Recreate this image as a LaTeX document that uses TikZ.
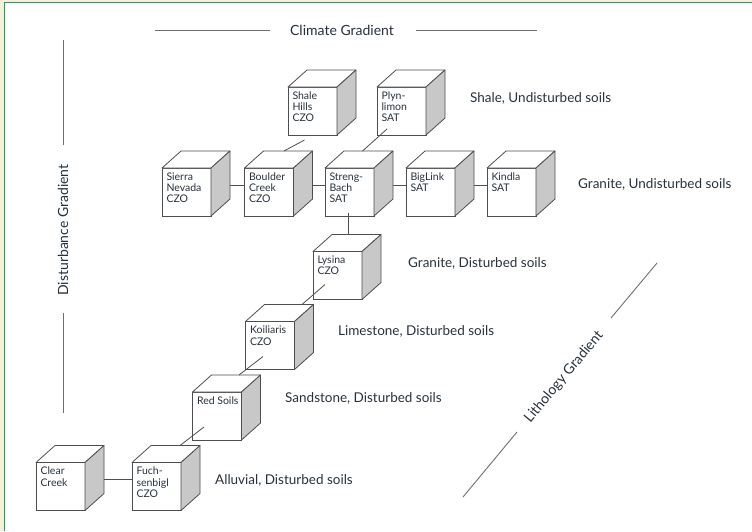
\documentclass[tikz,border=0pt]{standalone}
\usepackage{fontspec}
\setmainfont{Lato}
\usepackage{xcolor}
\usetikzlibrary{calc}
\definecolor{inkdark}{HTML}{27313C}
\definecolor{cubeline}{HTML}{4E4E4E}
\definecolor{cubeside}{HTML}{C8C8C8}
\definecolor{gradline}{HTML}{6E6E6E}
\definecolor{framegreen}{HTML}{1E9E62}
\definecolor{framebeige}{HTML}{F2F2D6}
\tikzset{
  cubebox/.style={draw=cubeline, fill=white, line width=0.8pt, outer sep=0pt,
    inner xsep=4.5pt, inner ysep=4.5pt, minimum width=49pt, minimum height=48pt,
    text=inkdark, font=\fontsize{10.5}{11.3}\selectfont},
  joinline/.style={draw=cubeline, line width=0.8pt},
  gradline/.style={draw=gradline, line width=0.9pt},
  gradlabel/.style={text=inkdark, font=\fontsize{14}{16}\selectfont, inner sep=0pt},
  soillabel/.style={text=inkdark, font=\fontsize{13.5}{15}\selectfont, anchor=west, inner sep=0pt}
}
\newcommand{\cubetext}[1]{\parbox[t][39pt][t]{40pt}{\raggedright #1}}
\newcommand{\cubefaces}[1]{%
  \filldraw[fill=white, draw=cubeline, line width=0.8pt, line join=round]
    (#1.north west) -- ++(19,-17) -- ++(49,0) -- (#1.north east) -- cycle;
  \filldraw[fill=cubeside, draw=cubeline, line width=0.8pt, line join=round]
    (#1.north east) -- ++(19,-17) -- ++(0,48) -- (#1.south east) -- cycle;}

\begin{document}
\begin{tikzpicture}[x=1pt, y=-1pt]
\useasboundingbox (0,0) rectangle (752,531);
% frame
\fill[framebeige] (0,0) rectangle (3.6,531);
\fill[framebeige] (0,0) rectangle (752,1.6);
\draw[framegreen, line width=1.3pt] (4.3,531) -- (4.3,2.4) -- (752,2.4);
% gradients
\node[gradlabel] (climate) at (342,30) {Climate Gradient};
\node[gradlabel, rotate=90] (disturb) at (63,230) {Disturbance Gradient};
\node[gradlabel, rotate=50] (litho) at (564,377) {Lithology Gradient};
\coordinate (clim1) at (155,30);
\coordinate (clim2) at (537,30);
\coordinate (dist1) at (63,40);
\coordinate (dist2) at (63,413);
\coordinate (lith1) at (657,263);
\coordinate (lith2) at (463,497);
\draw[gradline] (clim1) -- ($(climate.west)+(-20,0)$);
\draw[gradline] ($(climate.east)+(22,0)$) -- (clim2);
\draw[gradline] (dist1) -- (63,145);
\draw[gradline] (63,313) -- (dist2);
\draw[gradline] (lith1) -- (611,318);
\draw[gradline] (517,432) -- (lith2);
% cubes, top row
\node[cubebox] (sierra) at (186.5,192) {\cubetext{Sierra\\Nevada\\CZO}};
\node[cubebox] (boulder) at (269,192) {\cubetext{Boulder\\Creek\\CZO}};
\node[cubebox] (streng) at (349.5,192) {\cubetext{Streng-\\Bach\\SAT}};
\node[cubebox] (biglink) at (430.5,192) {\cubetext{BigLink\\SAT}};
\node[cubebox] (kindla) at (511.5,192) {\cubetext{Kindla\\SAT}};
% shale
\node[cubebox] (shale) at (312.5,111) {\cubetext{Shale\\Hills\\CZO}};
\node[cubebox] (plyn) at (401.5,111) {\cubetext{Plyn-\\limon\\SAT}};
% disturbed soils
\node[cubebox] (lysina) at (337.5,275.5) {\cubetext{Lysina\\CZO}};
\node[cubebox] (koiliaris) at (270,345.5) {\cubetext{Koiliaris\\CZO}};
\node[cubebox] (redsoils) at (217,416) {\cubetext{\makebox[40pt][l]{Red Soils}}};
\node[cubebox] (clear) at (60.5,486.5) {\cubetext{Clear\\Creek}};
\node[cubebox] (fuchs) at (156.5,486.5) {\cubetext{Fuch-\\senbigl\\CZO}};
\foreach \c in {sierra,boulder,streng,biglink,kindla,shale,plyn,lysina,koiliaris,redsoils,clear,fuchs}
  \cubefaces{\c};
% links along the rows
\foreach \a/\b in {sierra/boulder,boulder/streng,streng/biglink,biglink/kindla,clear/fuchs}
  \draw[joinline] ($(\a.east)+(19,-7)$) -- ($(\b.west)+(0,-7)$);
% links between rows
\draw[joinline] ($(shale.south)+(-8,5)$) -- ($(boulder.north)+(15,-17)$);
\draw[joinline] ($(plyn.south)+(-14.5,-6)$) -- ($(streng.north)+(13,-17)$);
\draw[joinline] ($(streng.south)+(-1.5,-3)$) -- ($(lysina.north)+(10.5,-17)$);
\draw[joinline] ($(lysina.south)+(-12.5,-15)$) -- ($(koiliaris.north)+(32,-17)$);
\draw[joinline] ($(koiliaris.south)+(-7,-13)$) -- ($(redsoils.north)+(22,-17)$);
\draw[joinline] ($(redsoils.south)+(-13,-13)$) -- ($(fuchs.north)+(23.5,-17)$);
% soil labels
\node[soillabel] (shalelab) at (470,98) {Shale, Undisturbed soils};
\node[soillabel] (granundis) at (578,184) {Granite, Undisturbed soils};
\node[soillabel] (grandis) at (408,263) {Granite, Disturbed soils};
\node[soillabel] (limelab) at (338,331) {Limestone, Disturbed soils};
\node[soillabel] (sandlab) at (285,398) {Sandstone, Disturbed soils};
\node[soillabel] (alluvlab) at (215,480) {Alluvial, Disturbed soils};
\end{tikzpicture}
\end{document}
